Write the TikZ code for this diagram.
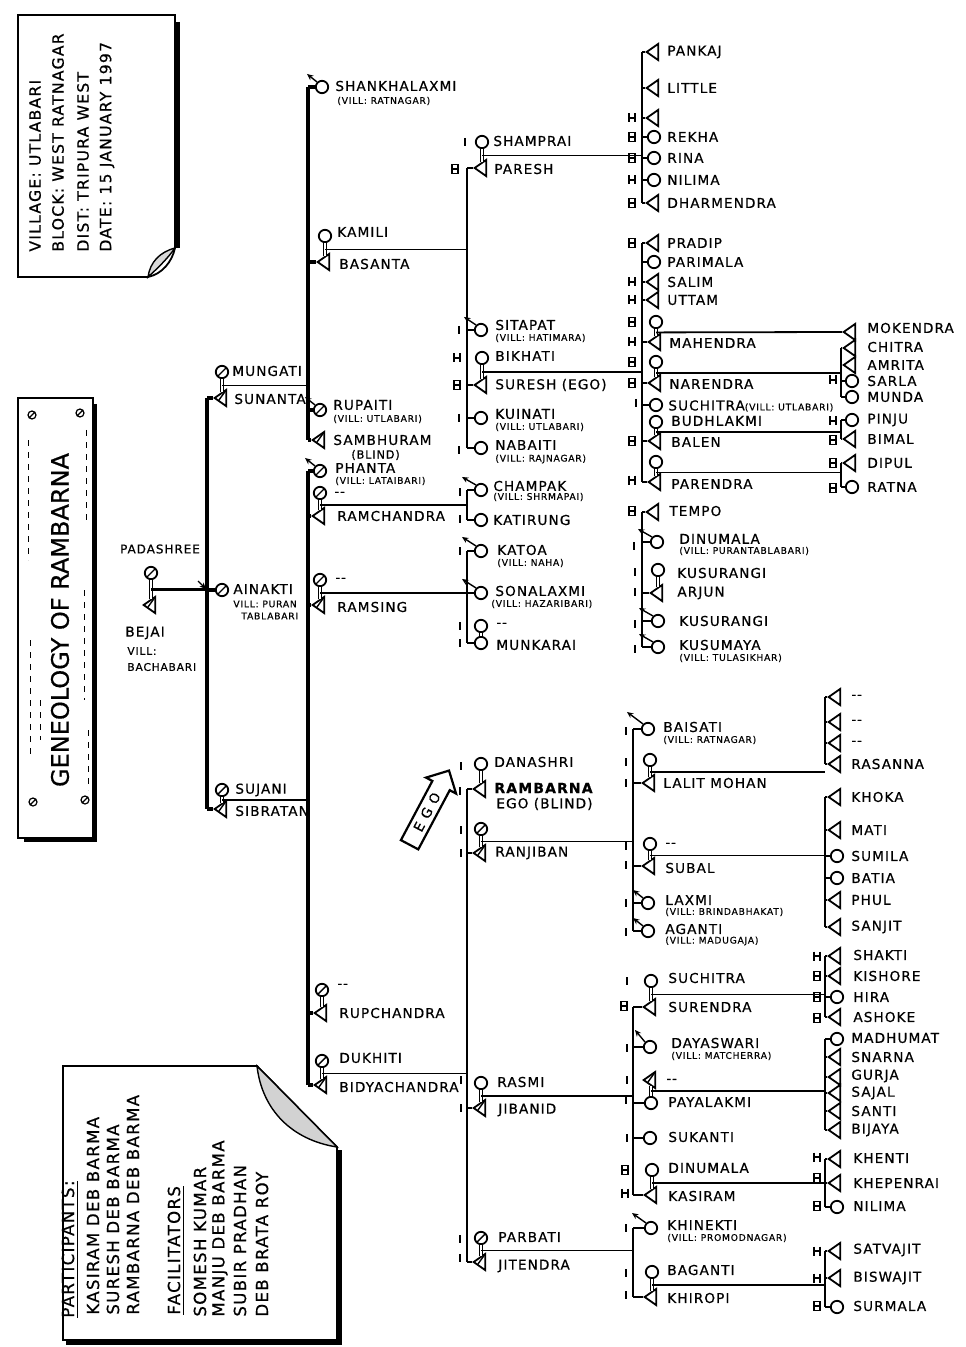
\documentclass[tikz,border=0pt]{standalone}
\usepackage{fontspec}
\setmainfont{DejaVu Sans}
\newfontfamily\hand[LetterSpace=8,FakeBold=0.6]{DejaVu Sans}
\newfontfamily\plainhand[FakeBold=0.6]{DejaVu Sans}
\newfontfamily\egohand[LetterSpace=45,FakeBold=0.6]{DejaVu Sans}
\usepackage{tikz}
\usetikzlibrary{calc}
\usetikzlibrary{shapes.geometric,shapes.arrows,arrows.meta}

\begin{document}
\begin{tikzpicture}[x=0.5pt,y=-0.5pt,
    fem/.style={circle,draw,line width=0.9pt,minimum size=6.2pt,inner sep=0pt},
    mal/.style={isosceles triangle,isosceles triangle apex angle=70,shape border rotate=180,draw,line width=0.9pt,minimum size=5.8pt,inner sep=0pt},
    deceased/.style={path picture={\draw[line width=0.7pt] (path picture bounding box.south west) -- (path picture bounding box.north east);}},
    pname/.style={anchor=west,inner sep=0.5pt,font=\hand\fontsize{6.8}{7}\selectfont},
    vill/.style={anchor=west,inner sep=0.5pt,font=\hand\fontsize{4.6}{5}\selectfont},
    note/.style={rotate=90,anchor=west,inner sep=0pt,font=\hand\fontsize{7.8}{8}\selectfont},
    roll/.style={rotate=90,anchor=west,inner sep=0pt,font=\hand\fontsize{8.3}{9}\selectfont},
    trunk/.style={line width=1.6pt},
    bar/.style={line width=1.2pt},
    wed/.style={line width=0.9pt},
    link/.style={double,double distance=1.1pt,line width=0.55pt},
    wedout/.style={-{Stealth[length=3.2pt,width=2.8pt]},line width=0.7pt},
    imark/.pic={\draw[line width=1pt] (0,-4) -- (0,4);},
    hmark/.pic={\draw[line width=0.7pt] (-3,-4.5) -- (-3,4.5) (3,-4.5) -- (3,4.5) (-3,0) -- (3,0);},
    bmark/.pic={\draw[line width=0.7pt] (-3,-4.5) rectangle (3,4.5) (-3,0) -- (3,0);}
  ]

    \useasboundingbox (0,0) rectangle (965,1347);

    % info card, top left
    \draw[line width=0.9pt] (18,15) -- (175,15) -- (175,248) .. controls (172,262) and (162,274) .. (148,277) -- (18,277) -- cycle;
    \draw[line width=2.2pt] (178,22) -- (178,248);
    \draw[line width=0.7pt,fill=gray!30] (148,277) .. controls (150,262) and (160,252) .. (175,248) .. controls (168,258) and (158,268) .. (148,277) -- cycle;
    \node[note] (village) at (35,252) {VILLAGE: UTLABARI};
    \node[note] (block) at (58,252) {BLOCK: WEST RATNAGAR};
    \node[note] (dist) at (83,252) {DIST: TRIPURA WEST};
    \node[note] (date) at (107,252) {DATE: 15 JANUARY 1997};

    % title board
    \draw[line width=1pt] (18,398) rectangle (93,838);
    \draw[line width=2.4pt] (95,404) -- (95,840) -- (24,840);
    \foreach \p in {(32,415),(80,413),(33,802),(85,800)}
      \draw[line width=0.6pt] \p circle[radius=4] ++(-3,3) -- ++(6,-6);
    \draw[dashed,line width=0.4pt] (28,440) -- (28,560) (30,640) -- (30,760) (86,430) -- (86,520) (84,590) -- (84,700) (88,730) -- (88,790) (40,700) -- (40,740);
    \node[rotate=90,font=\plainhand\fontsize{12}{12}\selectfont] (title) at (60,620) {GENEOLOGY OF RAMBARNA};

    % participants card, bottom left
    \draw[line width=0.9pt] (63,1066) -- (257,1066) -- (337,1147) -- (337,1340) -- (63,1340) -- cycle;
    \draw[line width=2.5pt] (339,1150) -- (339,1342) -- (66,1342);
    \draw[line width=0.7pt,fill=gray!35] (257,1066) .. controls (262,1110) and (292,1140) .. (337,1147) -- cycle;
    \node[roll] (partT) at (70,1318) {\underline{PARTICIPANTS:}};
    \node[roll] (kasiramP) at (93,1315) {KASIRAM DEB BARMA};
    \node[roll] (sureshP) at (113,1315) {SURESH DEB BARMA};
    \node[roll] (rambarnaP) at (133,1315) {RAMBARNA DEB BARMA};
    \node[roll] (faciT) at (176,1315) {\underline{FACILITATORS}};
    \node[roll] (someshP) at (200,1317) {SOMESH KUMAR};
    \node[roll] (manjuP) at (220,1317) {MANJU DEB BARMA};
    \node[roll] (subirP) at (240,1317) {SUBIR PRADHAN};
    \node[roll] (debP) at (262,1317) {DEB BRATA ROY};

    % Padashree and Bejai
    \node[fem,deceased] (padashree) at (151,573) {};
    \node[pname,anchor=center,font=\hand\fontsize{6}{7}\selectfont] (padashreeT) at (160,549) {PADASHREE};
    \node[mal,deceased] (bejai) at (151,605) {};
    \node[pname] (bejaiT) at (124,633) {BEJAI};
    \node[vill,font=\hand\fontsize{5.3}{6}\selectfont] (bejaiV) at (126,651) {VILL:};
    \node[vill,font=\hand\fontsize{5.3}{6}\selectfont] (bejaiW) at (126,667) {BACHABARI};
    \draw[link] (padashree.south) -- (padashree.south |- bejai.north);
    \coordinate (m-bejai) at ($(padashree.south)!0.5!(bejai.north)$);
    \coordinate (kidsA) at (207,0);
    \draw[trunk] (m-bejai) -- (m-bejai -| kidsA);

    % their children
    \node[fem,deceased] (mungati) at (222,372) {};
    \node[pname] (mungatiT) at (231,371) {MUNGATI};
    \node[mal,deceased] (sunanta) at (222,398) {};
    \node[pname] (sunantaT) at (233,399) {SUNANTA};
    \node[fem,deceased] (ainakti) at (222,590) {};
    \node[pname] (ainaktiT) at (232,589) {AINAKTI};
    \node[vill] (ainaktiV) at (232,604) {VILL: PURAN};
    \node[vill] (ainaktiW) at (240,616) {TABLABARI};
    \node[fem,deceased] (sujani) at (222,790) {};
    \node[pname] (sujaniT) at (234,790) {SUJANI};
    \node[mal,deceased] (sibratan) at (222,809) {};
    \node[pname] (sibratanT) at (234,811) {SIBRATAN};
    \draw[trunk] (kidsA |- sunanta) -- (kidsA |- sibratan);
    \draw[trunk] (kidsA |- sunanta) -- (sunanta.west);
    \draw[trunk] (kidsA |- ainakti) -- (ainakti.west);
    \draw[trunk] (kidsA |- sibratan) -- (sibratan.west);
    \draw[wedout] ([shift={(-9,-9)}]kidsA |- ainakti) -- ([shift={(-1,-1)}]kidsA |- ainakti);
    \draw[link] (mungati.south) -- (mungati.south |- sunanta.north);
    \draw[link] (sujani.south) -- (sujani.south |- sibratan.north);
    \coordinate (m-sunanta) at ($(mungati.south)!0.5!(sunanta.north)$);
    \coordinate (m-sibratan) at ($(sujani.south)!0.5!(sibratan.north)$);
    \coordinate (kidsB) at (308,0);
    \draw[wed] (m-sunanta) -- (m-sunanta -| kidsB);
    \draw[wed] (m-sibratan) -- (m-sibratan -| kidsB);

    % children of Mungati and Sunanta
    \node[fem] (shankhalaxmi) at (322,87) {};
    \node[pname] (shankhalaxmiT) at (334,86) {SHANKHALAXMI};
    \node[vill] (shankhalaxmiV) at (336,101) {(VILL: RATNAGAR)};
    \node[fem] (kamili) at (325,236) {};
    \node[pname] (kamiliT) at (336,232) {KAMILI};
    \node[mal] (basanta) at (325,262) {};
    \node[pname] (basantaT) at (338,264) {BASANTA};
    \node[fem,deceased] (rupaiti) at (320,410) {};
    \node[pname] (rupaitiT) at (332,405) {RUPAITI};
    \node[vill] (rupaitiV) at (332,419) {(VILL: UTLABARI)};
    \node[mal,deceased] (sambhuram) at (320,440) {};
    \node[pname] (sambhuramT) at (332,440) {SAMBHURAM};
    \node[pname,font=\hand\fontsize{5.6}{6}\selectfont] (sambhuramV) at (350,455) {(BLIND)};
    \draw[trunk] (kidsB |- shankhalaxmi) -- (kidsB |- sambhuram);
    \draw[trunk] (kidsB |- shankhalaxmi) -- (shankhalaxmi.west);
    \draw[trunk] (kidsB |- basanta) -- (basanta.west);
    \draw[trunk] (kidsB |- rupaiti) -- (rupaiti.west);
    \draw[trunk] (kidsB |- sambhuram) -- (sambhuram.west);
    \draw[wedout] (shankhalaxmi.north west) -- ++(-10,-8);
    \draw[wedout] (rupaiti.north west) -- ++(-10,-8);
    \draw[link] (kamili.south) -- (kamili.south |- basanta.north);
    \coordinate (m-basanta) at ($(kamili.south)!0.5!(basanta.north)$);
    \coordinate (kidsC) at (467,0);
    \draw[wed] (m-basanta) -- (m-basanta -| kidsC);

    % children of Kamili and Basanta
    \node[fem] (shamprai) at (482,142) {};
    \node[pname] (shampraiT) at (492,141) {SHAMPRAI};
    \node[mal] (paresh) at (482,168) {};
    \node[pname] (pareshT) at (493,169) {PARESH};
    \node[fem] (sitapat) at (481,330) {};
    \node[pname] (sitapatT) at (494,325) {SITAPAT};
    \node[vill] (sitapatV) at (494,338) {(VILL: HATIMARA)};
    \node[fem] (bikhati) at (482,358) {};
    \node[pname] (bikhatiT) at (494,356) {BIKHATI};
    \node[mal] (suresh) at (482,385) {};
    \node[pname] (sureshT) at (494,385) {SURESH (EGO)};
    \node[fem] (kuinati) at (481,418) {};
    \node[pname] (kuinatiT) at (494,414) {KUINATI};
    \node[vill] (kuinatiV) at (494,427) {(VILL: UTLABARI)};
    \node[fem] (nabaiti) at (481,448) {};
    \node[pname] (nabaitiT) at (494,445) {NABAITI};
    \node[vill] (nabaitiV) at (494,459) {(VILL: RAJNAGAR)};
    \draw[bar] (kidsC |- paresh) -- (kidsC |- nabaiti);
    \draw[bar] (kidsC |- paresh) -- (paresh.west);
    \draw[bar] (kidsC |- sitapat) -- (sitapat.west);
    \draw[bar] (kidsC |- suresh) -- (suresh.west);
    \draw[bar] (kidsC |- kuinati) -- (kuinati.west);
    \draw[bar] (kidsC |- nabaiti) -- (nabaiti.west);
    \draw[wedout] (sitapat.north west) -- ++(-12,-8);
    \draw[link] (shamprai.south) -- (shamprai.south |- paresh.north);
    \draw[link] (bikhati.south) -- (bikhati.south |- suresh.north);
    \coordinate (m-paresh) at ($(shamprai.south)!0.5!(paresh.north)$);
    \coordinate (m-suresh) at ($(bikhati.south)!0.5!(suresh.north)$);
    \pic at (465,142) {imark};
    \pic at (455,169) {bmark};
    \pic at (459,330) {imark};
    \pic at (457,358) {hmark};
    \pic at (457,385) {bmark};
    \pic at (459,418) {imark};
    \pic at (459,450) {imark};
    \coordinate (kidsD) at (642,0);
    \draw[wed] (m-paresh) -- (m-paresh -| kidsD);
    \draw[wed] (m-suresh) -- (m-suresh -| kidsD);

    % children of Shamprai and Paresh
    \node[mal] (pankaj) at (654,52) {};
    \node[pname] (pankajT) at (666,52) {PANKAJ};
    \node[mal] (little) at (654,88) {};
    \node[pname] (littleT) at (666,88) {LITTLE};
    \node[mal] (nameless) at (654,118) {};
    \node[fem] (rekha) at (654,137) {};
    \node[pname] (rekhaT) at (666,137) {REKHA};
    \node[fem] (rina) at (654,158) {};
    \node[pname] (rinaT) at (666,158) {RINA};
    \node[fem] (nilimaA) at (654,180) {};
    \node[pname] (nilimaAT) at (666,180) {NILIMA};
    \node[mal] (dharmendra) at (654,203) {};
    \node[pname] (dharmendraT) at (666,203) {DHARMENDRA};
    \draw[bar] (kidsD |- pankaj) -- (kidsD |- dharmendra);
    \draw[bar] (kidsD |- pankaj) -- (pankaj.west);
    \draw[bar] (kidsD |- little) -- (little.west);
    \draw[bar] (kidsD |- nameless) -- (nameless.west);
    \draw[bar] (kidsD |- rekha) -- (rekha.west);
    \draw[bar] (kidsD |- rina) -- (rina.west);
    \draw[bar] (kidsD |- nilimaA) -- (nilimaA.west);
    \draw[bar] (kidsD |- dharmendra) -- (dharmendra.west);
    \pic at (632,118) {hmark};
    \pic at (632,137) {bmark};
    \pic at (632,158) {bmark};
    \pic at (632,180) {hmark};
    \pic at (632,203) {bmark};

    % children of Bikhati and Suresh
    \node[mal] (pradip) at (654,243) {};
    \node[pname] (pradipT) at (666,243) {PRADIP};
    \node[fem] (parimala) at (654,262) {};
    \node[pname] (parimalaT) at (666,262) {PARIMALA};
    \node[mal] (salim) at (654,282) {};
    \node[pname] (salimT) at (666,282) {SALIM};
    \node[mal] (uttam) at (654,300) {};
    \node[pname] (uttamT) at (666,300) {UTTAM};
    \node[fem] (mahendraW) at (656,322) {};
    \node[mal] (mahendra) at (656,342) {};
    \node[pname] (mahendraT) at (668,343) {MAHENDRA};
    \node[fem] (narendraW) at (656,362) {};
    \node[mal] (narendra) at (656,383) {};
    \node[pname] (narendraT) at (668,384) {NARENDRA};
    \node[fem] (suchitraA) at (656,405) {};
    \node[pname] (suchitraAT) at (667,406) {SUCHITRA{\fontsize{4.6}{5}\selectfont(VILL: UTLABARI)}};
    \node[fem] (budhlakmi) at (656,422) {};
    \node[pname] (budhlakmiT) at (670,421) {BUDHLAKMI};
    \node[mal] (balen) at (656,441) {};
    \node[pname] (balenT) at (670,442) {BALEN};
    \node[fem] (parendraW) at (656,462) {};
    \node[mal] (parendra) at (656,482) {};
    \node[pname] (parendraT) at (670,484) {PARENDRA};
    \draw[bar] (kidsD |- pradip) -- (kidsD |- parendra);
    \draw[bar] (kidsD |- pradip) -- (pradip.west);
    \draw[bar] (kidsD |- parimala) -- (parimala.west);
    \draw[bar] (kidsD |- salim) -- (salim.west);
    \draw[bar] (kidsD |- uttam) -- (uttam.west);
    \draw[bar] (kidsD |- mahendra) -- (mahendra.west);
    \draw[bar] (kidsD |- narendra) -- (narendra.west);
    \draw[bar] (kidsD |- suchitraA) -- (suchitraA.west);
    \draw[bar] (kidsD |- balen) -- (balen.west);
    \draw[bar] (kidsD |- parendra) -- (parendra.west);
    \draw[link] (mahendraW.south) -- (mahendraW.south |- mahendra.north);
    \draw[link] (narendraW.south) -- (narendraW.south |- narendra.north);
    \draw[link] (budhlakmi.south) -- (budhlakmi.south |- balen.north);
    \draw[link] (parendraW.south) -- (parendraW.south |- parendra.north);
    \coordinate (m-mahendra) at ($(mahendraW.south)!0.5!(mahendra.north)$);
    \coordinate (m-narendra) at ($(narendraW.south)!0.5!(narendra.north)$);
    \coordinate (m-balen) at ($(budhlakmi.south)!0.5!(balen.north)$);
    \coordinate (m-parendra) at ($(parendraW.south)!0.5!(parendra.north)$);
    \pic at (632,243) {bmark};
    \pic at (632,282) {hmark};
    \pic at (632,300) {hmark};
    \pic at (632,322) {bmark};
    \pic at (632,342) {hmark};
    \pic at (632,362) {bmark};
    \pic at (632,383) {bmark};
    \pic at (636,403) {imark};
    \pic at (632,441) {bmark};
    \pic at (632,480) {hmark};

    % grandchildren of Suresh
    \coordinate (kidsE) at (841,0);
    \node[mal] (mokendra) at (851,332) {};
    \node[pname] (mokendraT) at (866,328) {MOKENDRA};
    \draw[wed] (m-mahendra) -- (mokendra.west);
    \node[mal] (chitra) at (851,348) {};
    \node[pname] (chitraT) at (866,347) {CHITRA};
    \node[mal] (amrita) at (851,365) {};
    \node[pname] (amritaT) at (866,365) {AMRITA};
    \node[fem] (sarla) at (852,381) {};
    \node[pname] (sarlaT) at (866,381) {SARLA};
    \node[fem] (munda) at (852,397) {};
    \node[pname] (mundaT) at (866,397) {MUNDA};
    \draw[wed] (m-narendra) -- (m-narendra -| kidsE);
    \draw[bar] (kidsE |- chitra) -- (kidsE |- munda);
    \draw[bar] (kidsE |- chitra) -- (chitra.west);
    \draw[bar] (kidsE |- amrita) -- (amrita.west);
    \draw[bar] (kidsE |- sarla) -- (sarla.west);
    \draw[bar] (kidsE |- munda) -- (munda.west);
    \node[fem] (pinju) at (852,420) {};
    \node[pname] (pinjuT) at (866,420) {PINJU};
    \node[mal] (bimal) at (851,439) {};
    \node[pname] (bimalT) at (866,439) {BIMAL};
    \draw[wed] (m-balen) -- (m-balen -| kidsE);
    \draw[bar] (kidsE |- pinju) -- (kidsE |- bimal);
    \draw[bar] (kidsE |- pinju) -- (pinju.west);
    \draw[bar] (kidsE |- bimal) -- (bimal.west);
    \node[mal] (dipul) at (851,463) {};
    \node[pname] (dipulT) at (866,463) {DIPUL};
    \node[fem] (ratna) at (852,487) {};
    \node[pname] (ratnaT) at (866,487) {RATNA};
    \draw[wed] (m-parendra) -- (m-parendra -| kidsE);
    \draw[bar] (kidsE |- dipul) -- (kidsE |- ratna);
    \draw[bar] (kidsE |- dipul) -- (dipul.west);
    \draw[bar] (kidsE |- ratna) -- (ratna.west);
    \pic at (833,380) {hmark};
    \pic at (833,421) {hmark};
    \pic at (833,440) {bmark};
    \pic at (833,463) {bmark};
    \pic at (833,488) {bmark};

    % Tempo and his sisters
    \node[mal] (tempo) at (654,512) {};
    \node[pname] (tempoT) at (668,511) {TEMPO};
    \node[fem] (dinumalaA) at (657,542) {};
    \node[pname] (dinumalaAT) at (678,539) {DINUMALA};
    \node[vill] (dinumalaAV) at (678,551) {(VILL: PURANTABLABARI)};
    \node[fem] (kusurangiA) at (658,570) {};
    \node[pname] (kusurangiAT) at (676,573) {KUSURANGI};
    \node[mal] (arjun) at (658,593) {};
    \node[pname] (arjunT) at (676,593) {ARJUN};
    \node[fem] (kusurangiB) at (658,621) {};
    \node[pname] (kusurangiBT) at (678,621) {KUSURANGI};
    \node[fem] (kusumaya) at (658,647) {};
    \node[pname] (kusumayaT) at (678,645) {KUSUMAYA};
    \node[vill] (kusumayaV) at (678,658) {(VILL: TULASIKHAR)};
    \draw[bar] (kidsD |- tempo) -- (kidsD |- kusumaya);
    \draw[bar] (kidsD |- tempo) -- (tempo.west);
    \draw[bar] (kidsD |- dinumalaA) -- (dinumalaA.west);
    \draw[bar] (kidsD |- arjun) -- (arjun.west);
    \draw[bar] (kidsD |- kusurangiB) -- (kusurangiB.west);
    \draw[bar] (kidsD |- kusumaya) -- (kusumaya.west);
    \draw[link] (kusurangiA.south) -- (kusurangiA.south |- arjun.north);
    \draw[wedout] (dinumalaA.north west) -- ++(-14,-8);
    \draw[wedout] (kusurangiB.north west) -- ++(-14,-8);
    \draw[wedout] (kusumaya.north west) -- ++(-14,-8);
    \pic at (632,511) {bmark};
    \pic at (634,546) {imark};
    \pic at (635,572) {imark};
    \pic at (635,592) {imark};
    \pic at (635,624) {imark};
    \pic at (635,649) {imark};

    % children of Sujani and Sibratan
    \node[fem,deceased] (phanta) at (320,471) {};
    \node[pname] (phantaT) at (334,468) {PHANTA};
    \node[vill] (phantaV) at (334,481) {(VILL: LATAIBARI)};
    \node[fem,deceased] (ramchandraW) at (320,493) {};
    \node[pname] (ramchandraWT) at (333,494) {-\kern0.4pt-};
    \node[mal] (ramchandra) at (320,516) {};
    \node[pname] (ramchandraT) at (336,516) {RAMCHANDRA};
    \node[fem,deceased] (ramsingW) at (320,580) {};
    \node[pname] (ramsingWT) at (334,580) {-\kern0.4pt-};
    \node[mal,deceased] (ramsing) at (320,605) {};
    \node[pname] (ramsingT) at (336,607) {RAMSING};
    \node[fem,deceased] (rupchandraW) at (322,990) {};
    \node[pname] (rupchandraWT) at (336,986) {-\kern0.4pt-};
    \node[mal] (rupchandra) at (322,1013) {};
    \node[pname] (rupchandraT) at (338,1013) {RUPCHANDRA};
    \node[fem,deceased] (dukhiti) at (322,1061) {};
    \node[pname] (dukhitiT) at (338,1058) {DUKHITI};
    \node[mal,deceased] (bidyachandra) at (322,1085) {};
    \node[pname] (bidyachandraT) at (338,1087) {BIDYACHANDRA};
    \draw[trunk] (kidsB |- phanta) -- (kidsB |- bidyachandra);
    \draw[trunk] (kidsB |- phanta) -- (phanta.west);
    \draw[trunk] (kidsB |- ramchandra) -- (ramchandra.west);
    \draw[trunk] (kidsB |- ramsing) -- (ramsing.west);
    \draw[trunk] (kidsB |- rupchandra) -- (rupchandra.west);
    \draw[trunk] (kidsB |- bidyachandra) -- (bidyachandra.west);
    \draw[wedout] (phanta.north west) -- ++(-10,-8);
    \draw[link] (ramchandraW.south) -- (ramchandraW.south |- ramchandra.north);
    \draw[link] (ramsingW.south) -- (ramsingW.south |- ramsing.north);
    \draw[link] (rupchandraW.south) -- (rupchandraW.south |- rupchandra.north);
    \draw[link] (dukhiti.south) -- (dukhiti.south |- bidyachandra.north);
    \coordinate (m-ramchandra) at ($(ramchandraW.south)!0.5!(ramchandra.north)$);
    \coordinate (m-ramsing) at ($(ramsingW.south)!0.5!(ramsing.north)$);
    \coordinate (m-bidyachandra) at ($(dukhiti.south)!0.5!(bidyachandra.north)$);
    \draw[wed] (m-ramchandra) -- (m-ramchandra -| kidsC);
    \draw[wed] (m-ramsing) -- (m-ramsing -| kidsC);
    \draw[wed] (m-bidyachandra) -- (m-bidyachandra -| kidsC);

    % children of Ramchandra
    \node[fem] (champak) at (481,490) {};
    \node[pname] (champakT) at (492,486) {CHAMPAK};
    \node[vill] (champakV) at (492,497) {(VILL: SHRMAPAI)};
    \node[fem] (katirung) at (481,520) {};
    \node[pname] (katirungT) at (492,520) {KATIRUNG};
    \draw[bar] (kidsC |- champak) -- (kidsC |- katirung);
    \draw[bar] (kidsC |- champak) -- (champak.west);
    \draw[bar] (kidsC |- katirung) -- (katirung.west);
    \draw[wedout] (champak.north west) -- ++(-14,-8);
    \pic at (460,492) {imark};
    \pic at (460,519) {imark};

    % children of Ramsing
    \node[fem] (katoa) at (481,551) {};
    \node[pname] (katoaT) at (496,550) {KATOA};
    \node[vill] (katoaV) at (496,563) {(VILL: NAHA)};
    \node[fem] (sonalaxmi) at (481,593) {};
    \node[pname] (sonalaxmiT) at (494,591) {SONALAXMI};
    \node[vill] (sonalaxmiV) at (490,604) {(VILL: HAZARIBARI)};
    \node[fem] (munkaraiH) at (481,626) {};
    \node[pname] (munkaraiHT) at (495,625) {-\kern0.4pt-};
    \node[fem] (munkarai) at (481,643) {};
    \node[pname] (munkaraiT) at (495,645) {MUNKARAI};
    \draw[bar] (kidsC |- katoa) -- (kidsC |- munkarai);
    \draw[bar] (kidsC |- katoa) -- (katoa.west);
    \draw[bar] (kidsC |- sonalaxmi) -- (sonalaxmi.west);
    \draw[bar] (kidsC |- munkarai) -- (munkarai.west);
    \draw[link] (munkaraiH.south) -- (munkarai.north);
    \draw[wedout] (katoa.north west) -- ++(-14,-9);
    \draw[wedout] (sonalaxmi.north west) -- ++(-14,-9);
    \pic at (460,551) {imark};
    \pic at (460,626) {imark};
    \pic at (460,643) {imark};

    % children of Dukhiti and Bidyachandra
    \node[fem] (danashri) at (481,764) {};
    \node[pname] (danashriT) at (493,762) {DANASHRI};
    \node[mal] (rambarna) at (481,789) {};
    \node[pname,font=\hand\bfseries\fontsize{7}{7}\selectfont] (rambarnaT) at (493,788) {RAMBARNA};
    \node[pname] (rambarnaV) at (495,804) {EGO (BLIND)};
    \node[fem,deceased] (ranjibanW) at (481,829) {};
    \node[mal,deceased] (ranjiban) at (481,853) {};
    \node[pname] (ranjibanT) at (494,853) {RANJIBAN};
    \node[fem] (rasmi) at (481,1083) {};
    \node[pname] (rasmiT) at (496,1082) {RASMI};
    \node[mal,deceased] (jibanid) at (481,1108) {};
    \node[pname] (jibanidT) at (497,1110) {JIBANID};
    \node[fem,deceased] (parbati) at (481,1238) {};
    \node[pname] (parbatiT) at (497,1237) {PARBATI};
    \node[mal,deceased] (jitendra) at (481,1262) {};
    \node[pname] (jitendraT) at (497,1266) {JITENDRA};
    \draw[bar] (kidsC |- rambarna) -- (kidsC |- jitendra);
    \draw[bar] (kidsC |- rambarna) -- (rambarna.west);
    \draw[bar] (kidsC |- ranjiban) -- (ranjiban.west);
    \draw[bar] (kidsC |- jibanid) -- (jibanid.west);
    \draw[bar] (kidsC |- jitendra) -- (jitendra.west);
    \draw[link] (danashri.south) -- (danashri.south |- rambarna.north);
    \draw[link] (ranjibanW.south) -- (ranjibanW.south |- ranjiban.north);
    \draw[link] (rasmi.south) -- (rasmi.south |- jibanid.north);
    \draw[link] (parbati.south) -- (parbati.south |- jitendra.north);
    \coordinate (m-ranjiban) at ($(ranjibanW.south)!0.5!(ranjiban.north)$);
    \coordinate (m-jibanid) at ($(rasmi.south)!0.5!(jibanid.north)$);
    \coordinate (m-jitendra) at ($(parbati.south)!0.5!(jitendra.north)$);
    \pic at (461,766) {imark};
    \pic at (460,791) {imark};
    \pic at (461,830) {imark};
    \pic at (461,853) {imark};
    \pic at (461,1080) {imark};
    \pic at (461,1108) {imark};
    \pic at (460,1239) {imark};
    \pic at (460,1258) {imark};
    \node[single arrow,draw,line width=1.1pt,rotate=62,minimum height=42pt,minimum width=17pt,single arrow head extend=3pt,inner sep=1pt,font=\egohand\fontsize{6.8}{7}\selectfont] (egoArrow) at (427,812) {EGO};
    \coordinate (kidsF) at (633,0);
    \draw[wed] (m-ranjiban) -- (m-ranjiban -| kidsF);
    \draw[wed] (m-jibanid) -- (m-jibanid -| kidsF);
    \draw[wed] (m-jitendra) -- (m-jitendra -| kidsF);

    % children of Ranjiban
    \node[fem] (baisati) at (648,729) {};
    \node[pname] (baisatiT) at (662,727) {BAISATI};
    \node[vill] (baisatiV) at (662,740) {(VILL: RATNAGAR)};
    \node[fem] (lalitW) at (650,760) {};
    \node[mal] (lalit) at (650,783) {};
    \node[pname] (lalitT) at (662,783) {LALIT MOHAN};
    \node[fem] (subalW) at (650,844) {};
    \node[pname] (subalWT) at (664,845) {-\kern0.4pt-};
    \node[mal] (subal) at (650,866) {};
    \node[pname] (subalT) at (664,868) {SUBAL};
    \node[fem] (laxmi) at (648,903) {};
    \node[pname] (laxmiT) at (664,900) {LAXMI};
    \node[vill] (laxmiV) at (664,912) {(VILL: BRINDABHAKAT)};
    \node[fem] (aganti) at (648,931) {};
    \node[pname] (agantiT) at (664,929) {AGANTI};
    \node[vill] (agantiV) at (664,941) {(VILL: MADUGAJA)};
    \draw[bar] (kidsF |- baisati) -- (kidsF |- aganti);
    \draw[bar] (kidsF |- baisati) -- (baisati.west);
    \draw[bar] (kidsF |- lalit) -- (lalit.west);
    \draw[bar] (kidsF |- subal) -- (subal.west);
    \draw[bar] (kidsF |- laxmi) -- (laxmi.west);
    \draw[bar] (kidsF |- aganti) -- (aganti.west);
    \draw[wedout] (baisati.north west) -- ++(-16,-12);
    \draw[wedout] (laxmi.north west) -- ++(-10,-8);
    \draw[wedout] (aganti.north west) -- ++(-10,-8);
    \draw[link] (lalitW.south) -- (lalitW.south |- lalit.north);
    \draw[link] (subalW.south) -- (subalW.south |- subal.north);
    \coordinate (m-lalit) at ($(lalitW.south)!0.5!(lalit.north)$);
    \coordinate (m-subal) at ($(subalW.south)!0.5!(subal.north)$);
    \pic at (626,731) {imark};
    \pic at (626,762) {imark};
    \pic at (626,783) {imark};
    \pic at (626,846) {imark};
    \pic at (626,865) {imark};
    \pic at (626,903) {imark};
    \pic at (626,932) {imark};

    % grandchildren of Ranjiban
    \coordinate (kidsG) at (825,0);
    \node[mal] (lalitA) at (836,697) {};
    \node[pname] (lalitAT) at (850,697) {-\kern0.4pt-};
    \node[mal] (lalitB) at (836,722) {};
    \node[pname] (lalitBT) at (850,722) {-\kern0.4pt-};
    \node[mal] (lalitC) at (836,743) {};
    \node[pname] (lalitCT) at (850,743) {-\kern0.4pt-};
    \node[mal] (rasanna) at (836,764) {};
    \node[pname] (rasannaT) at (850,764) {RASANNA};
    \draw[wed] (m-lalit) -- (m-lalit -| kidsG);
    \draw[bar] (kidsG |- lalitA) -- (kidsG |- rasanna);
    \draw[bar] (kidsG |- lalitA) -- (lalitA.west);
    \draw[bar] (kidsG |- lalitB) -- (lalitB.west);
    \draw[bar] (kidsG |- lalitC) -- (lalitC.west);
    \draw[bar] (kidsG |- rasanna) -- (rasanna.west);
    \node[mal] (khoka) at (836,797) {};
    \node[pname] (khokaT) at (850,797) {KHOKA};
    \node[mal] (mati) at (836,830) {};
    \node[pname] (matiT) at (850,830) {MATI};
    \node[fem] (sumila) at (837,856) {};
    \node[pname] (sumilaT) at (850,856) {SUMILA};
    \node[fem] (batia) at (837,878) {};
    \node[pname] (batiaT) at (850,878) {BATIA};
    \node[mal] (phul) at (836,900) {};
    \node[pname] (phulT) at (850,900) {PHUL};
    \node[mal] (sanjit) at (836,927) {};
    \node[pname] (sanjitT) at (850,927) {SANJIT};
    \draw[wed] (m-subal) -- (m-subal -| kidsG);
    \draw[bar] (kidsG |- khoka) -- (kidsG |- sanjit);
    \draw[bar] (kidsG |- khoka) -- (khoka.west);
    \draw[bar] (kidsG |- mati) -- (mati.west);
    \draw[bar] (kidsG |- sumila) -- (sumila.west);
    \draw[bar] (kidsG |- batia) -- (batia.west);
    \draw[bar] (kidsG |- phul) -- (phul.west);
    \draw[bar] (kidsG |- sanjit) -- (sanjit.west);

    % children of Rasmi and Jibanid
    \node[fem] (suchitraB) at (651,981) {};
    \node[pname] (suchitraBT) at (667,978) {SUCHITRA};
    \node[mal] (surendra) at (651,1007) {};
    \node[pname] (surendraT) at (667,1007) {SURENDRA};
    \node[fem] (dayaswari) at (650,1047) {};
    \node[pname] (dayaswariT) at (670,1043) {DAYASWARI};
    \node[vill] (dayaswariV) at (670,1056) {(VILL: MATCHERRA)};
    \node[mal,deceased] (payalakmiH) at (651,1080) {};
    \node[pname] (payalakmiHT) at (665,1081) {-\kern0.4pt-};
    \node[fem] (payalakmi) at (651,1103) {};
    \node[pname] (payalakmiT) at (667,1102) {PAYALAKMI};
    \node[fem] (sukanti) at (650,1138) {};
    \node[pname] (sukantiT) at (667,1137) {SUKANTI};
    \node[fem] (dinumalaB) at (652,1170) {};
    \node[pname] (dinumalaBT) at (667,1168) {DINUMALA};
    \node[mal] (kasiram) at (652,1195) {};
    \node[pname] (kasiramT) at (667,1196) {KASIRAM};
    \draw[bar] (kidsF |- surendra) -- (kidsF |- kasiram);
    \draw[bar] (kidsF |- surendra) -- (surendra.west);
    \draw[bar] (kidsF |- dayaswari) -- (dayaswari.west);
    \draw[bar] (kidsF |- payalakmi) -- (payalakmi.west);
    \draw[bar] (kidsF |- sukanti) -- (sukanti.west);
    \draw[bar] (kidsF |- kasiram) -- (kasiram.west);
    \draw[wedout] (dayaswari.north west) -- ++(-10,-12);
    \draw[link] (suchitraB.south) -- (suchitraB.south |- surendra.north);
    \draw[link] (payalakmiH.south) -- (payalakmiH.south |- payalakmi.north);
    \draw[link] (dinumalaB.south) -- (dinumalaB.south |- kasiram.north);
    \coordinate (m-surendra) at ($(suchitraB.south)!0.5!(surendra.north)$);
    \coordinate (m-payalakmi) at ($(payalakmiH.south)!0.5!(payalakmi.north)$);
    \coordinate (m-kasiram) at ($(dinumalaB.south)!0.5!(kasiram.north)$);
    \pic at (627,981) {imark};
    \pic at (624,1006) {bmark};
    \pic at (627,1048) {imark};
    \pic at (627,1080) {imark};
    \pic at (626,1100) {imark};
    \pic at (627,1138) {imark};
    \pic at (625,1170) {bmark};
    \pic at (625,1193) {hmark};

    % grandchildren of Jibanid
    \node[mal] (shakti) at (836,956) {};
    \node[pname] (shaktiT) at (852,955) {SHAKTI};
    \node[mal] (kishore) at (836,976) {};
    \node[pname] (kishoreT) at (852,976) {KISHORE};
    \node[fem] (hira) at (837,997) {};
    \node[pname] (hiraT) at (852,997) {HIRA};
    \node[mal] (ashoke) at (836,1017) {};
    \node[pname] (ashokeT) at (852,1017) {ASHOKE};
    \draw[wed] (m-surendra) -- (m-surendra -| kidsG);
    \draw[bar] (kidsG |- shakti) -- (kidsG |- ashoke);
    \draw[bar] (kidsG |- shakti) -- (shakti.west);
    \draw[bar] (kidsG |- kishore) -- (kishore.west);
    \draw[bar] (kidsG |- hira) -- (hira.west);
    \draw[bar] (kidsG |- ashoke) -- (ashoke.west);
    \pic at (817,956) {hmark};
    \pic at (817,976) {bmark};
    \pic at (817,997) {bmark};
    \pic at (817,1018) {bmark};
    \node[fem] (madhumat) at (837,1039) {};
    \node[pname] (madhumatT) at (850,1038) {MADHUMAT};
    \node[mal] (snarna) at (836,1057) {};
    \node[pname] (snarnaT) at (850,1057) {SNARNA};
    \node[mal] (gurja) at (836,1077) {};
    \node[pname] (gurjaT) at (850,1076) {GURJA};
    \node[mal] (sajal) at (836,1093) {};
    \node[pname] (sajalT) at (850,1093) {SAJAL};
    \node[mal] (santi) at (836,1111) {};
    \node[pname] (santiT) at (850,1111) {SANTI};
    \node[mal] (bijaya) at (836,1130) {};
    \node[pname] (bijayaT) at (850,1130) {BIJAYA};
    \draw[wed] (m-payalakmi) -- (m-payalakmi -| kidsG);
    \draw[bar] (kidsG |- madhumat) -- (kidsG |- bijaya);
    \draw[bar] (kidsG |- madhumat) -- (madhumat.west);
    \draw[bar] (kidsG |- snarna) -- (snarna.west);
    \draw[bar] (kidsG |- gurja) -- (gurja.west);
    \draw[bar] (kidsG |- sajal) -- (sajal.west);
    \draw[bar] (kidsG |- santi) -- (santi.west);
    \draw[bar] (kidsG |- bijaya) -- (bijaya.west);
    \node[mal] (khenti) at (836,1159) {};
    \node[pname] (khentiT) at (852,1158) {KHENTI};
    \node[mal] (khepenrai) at (836,1183) {};
    \node[pname] (khepenraiT) at (852,1183) {KHEPENRAI};
    \node[fem] (nilimaB) at (837,1207) {};
    \node[pname] (nilimaBT) at (852,1206) {NILIMA};
    \draw[wed] (m-kasiram) -- (m-kasiram -| kidsG);
    \draw[bar] (kidsG |- khenti) -- (kidsG |- nilimaB);
    \draw[bar] (kidsG |- khenti) -- (khenti.west);
    \draw[bar] (kidsG |- khepenrai) -- (khepenrai.west);
    \draw[bar] (kidsG |- nilimaB) -- (nilimaB.west);
    \pic at (817,1157) {hmark};
    \pic at (817,1178) {bmark};
    \pic at (817,1206) {bmark};

    % children of Parbati and Jitendra
    \node[fem] (khinekti) at (651,1228) {};
    \node[pname] (khinektiT) at (666,1225) {KHINEKTI};
    \node[vill] (khinektiV) at (666,1238) {(VILL: PROMODNAGAR)};
    \node[fem] (baganti) at (652,1272) {};
    \node[pname] (bagantiT) at (666,1270) {BAGANTI};
    \node[mal] (khiropi) at (652,1297) {};
    \node[pname] (khiropiT) at (666,1298) {KHIROPI};
    \draw[bar] (kidsF |- khinekti) -- (kidsF |- khiropi);
    \draw[bar] (kidsF |- khinekti) -- (khinekti.west);
    \draw[bar] (kidsF |- khiropi) -- (khiropi.west);
    \draw[wedout] (khinekti.north west) -- ++(-14,-10);
    \draw[link] (baganti.south) -- (baganti.south |- khiropi.north);
    \coordinate (m-khiropi) at ($(baganti.south)!0.5!(khiropi.north)$);
    \pic at (626,1228) {imark};
    \pic at (626,1273) {imark};
    \pic at (626,1295) {imark};
    \node[mal] (satvajit) at (836,1251) {};
    \node[pname] (satvajitT) at (852,1250) {SATVAJIT};
    \node[mal] (biswajit) at (836,1278) {};
    \node[pname] (biswajitT) at (852,1278) {BISWAJIT};
    \node[fem] (surmala) at (837,1307) {};
    \node[pname] (surmalaT) at (852,1306) {SURMALA};
    \draw[wed] (m-khiropi) -- (m-khiropi -| kidsG);
    \draw[bar] (kidsG |- satvajit) -- (kidsG |- surmala);
    \draw[bar] (kidsG |- satvajit) -- (satvajit.west);
    \draw[bar] (kidsG |- biswajit) -- (biswajit.west);
    \draw[bar] (kidsG |- surmala) -- (surmala.west);
    \pic at (817,1251) {hmark};
    \pic at (817,1278) {hmark};
    \pic at (817,1306) {bmark};

\end{tikzpicture}
\end{document}
